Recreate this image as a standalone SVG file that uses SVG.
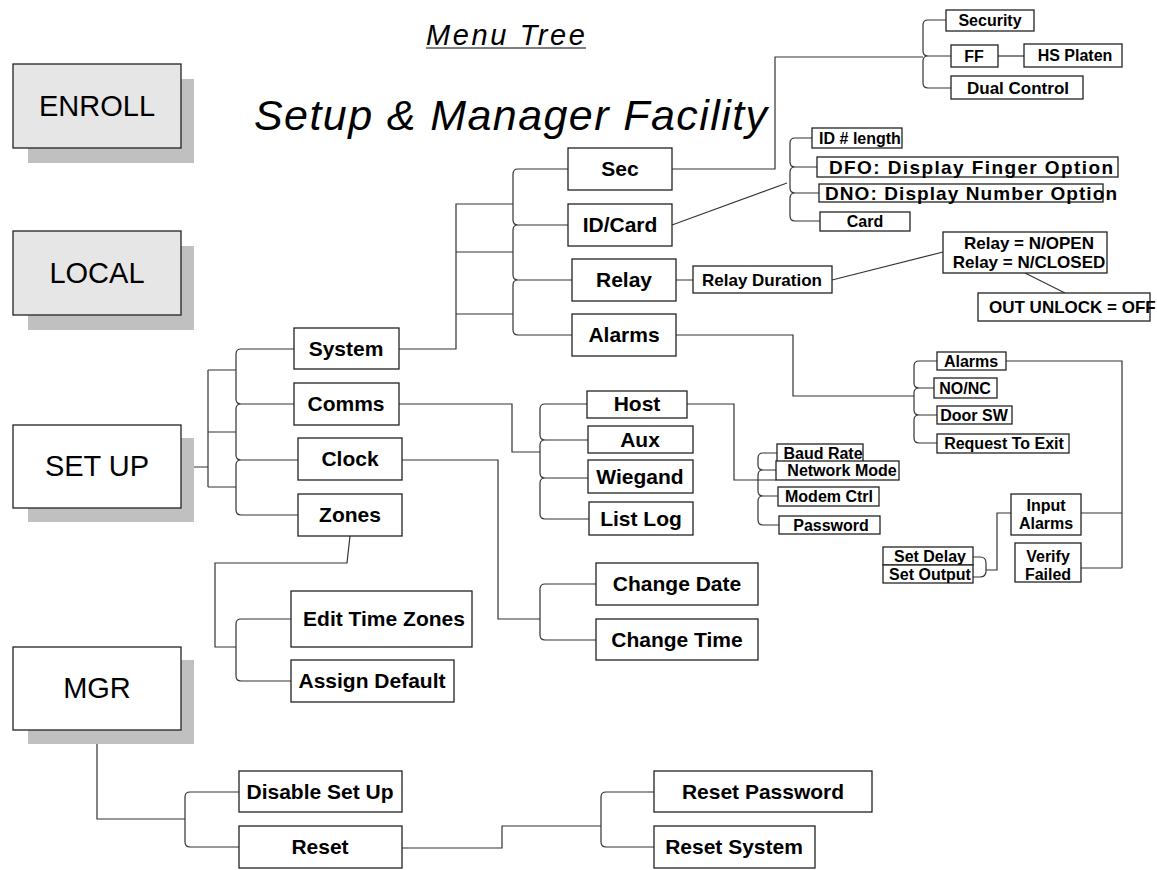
<svg xmlns="http://www.w3.org/2000/svg" width="1157" height="870" viewBox="0 0 1157 870">
<style>
.bx{fill:#fff;stroke:#222;stroke-width:1.3}
.big{fill:#e6e6e6;stroke:#222;stroke-width:1.3}
.bw{fill:#fff;stroke:#222;stroke-width:1.3}
.sh{fill:#c0c0c0}
.t{font-family:"Liberation Sans",Arial,sans-serif;font-weight:bold;text-anchor:middle;fill:#000}
.l{font-size:21px}
.s{font-size:16px}
.m{font-size:17px}
.h{font-family:"Liberation Sans",Arial,sans-serif;font-size:29px;text-anchor:middle;fill:#000}
.c path,.c line{fill:none;stroke:#333;stroke-width:1.2}
</style>
<rect width="1157" height="870" fill="#fff"/>
<g id="title">
<text x="426" y="45" font-family="Liberation Sans,Arial,sans-serif" font-style="italic" font-size="29" textLength="159" lengthAdjust="spacing">Menu Tree</text>
<line x1="426" y1="48" x2="586" y2="48" stroke="#000" stroke-width="1.2"/>
<text x="254" y="130" font-family="Liberation Sans,Arial,sans-serif" font-style="italic" font-size="43" textLength="513" lengthAdjust="spacing">Setup &amp; Manager Facility</text>
</g>
<g class="c" id="connectors">
<path d="M181,467 H208 M208,370 V487 M208,370 H236 M208,432 H236 M208,487 H236"/>
<path d="M294,349 H241 Q236,349 236,354 V399 Q236,404 241,404 H294 M294,404 H241 Q236,404 236,409 V455 Q236,460 241,460 H298 M298,460 H241 Q236,460 236,465 V510 Q236,515 241,515 H298"/>
<path d="M399,349 H456 V204 H513 M456,252 H513 M456,314 H513"/>
<path d="M568,169 H518 Q513,169 513,174 V220 Q513,225 518,225 H568 M568,225 H518 Q513,225 513,230 V275 Q513,280 518,280 H572 M572,280 H518 Q513,280 513,285 V330 Q513,335 518,335 H572"/>
<path d="M672,169 H775 V57 H923"/>
<path d="M946,20 H928 Q923,20 923,25 V51 Q923,56 928,56 H951 M951,56 H928 Q923,56 923,61 V83 Q923,88 928,88 H951"/>
<path d="M998,56 H1024"/>
<path d="M672,225 L787,183"/>
<path d="M812,138 H795 Q790,138 790,143 V162 Q790,167 795,167 H817 M817,167 H795 Q790,167 790,172 V188 Q790,193 795,193 H819 M819,193 H795 Q790,193 790,198 V216 Q790,221 795,221 H820"/>
<path d="M676,280 H693 M832,280 L943,252 M1025,273 L1065,293"/>
<path d="M676,335 H793 V396 H914"/>
<path d="M937,361 H919 Q914,361 914,366 V383 Q914,388 919,388 H934 M934,388 H919 Q914,388 914,393 V410 Q914,415 919,415 H937 M937,415 H919 Q914,415 914,420 V438 Q914,443 919,443 H937"/>
<path d="M1006,361 H1122 V568 M1081,513 H1122 M1081,568 H1122"/>
<path d="M1011,513 H997 V570 H986 M973,557 H980 Q986,557 986,563 V571 Q986,577 980,577 H973"/>
<path d="M399,404 H512 V452 H540"/>
<path d="M587,404 H545 Q540,404 540,409 V435 Q540,440 545,440 H588 M588,440 H545 Q540,440 540,445 V473 Q540,478 545,478 H588 M588,478 H545 Q540,478 540,483 V514 Q540,519 545,519 H589"/>
<path d="M687,404 H734 V480 H776"/>
<path d="M777,453 H763 Q758,453 758,458 V465 Q758,470 763,470 H776 M776,470 H763 Q758,470 758,475 V491 Q758,496 763,496 H778 M778,496 H763 Q758,496 758,501 V520 Q758,525 763,525 H779"/>
<path d="M402,460 H498 V619 H540"/>
<path d="M596,584 H545 Q540,584 540,589 V635 Q540,640 545,640 H596"/>
<path d="M350,536 L347,563 H215 V647 H236"/>
<path d="M291,619 H241 Q236,619 236,624 V676 Q236,681 241,681 H291"/>
<path d="M97,730 V819 H185"/>
<path d="M239,792 H190 Q185,792 185,797 V842 Q185,847 190,847 H239"/>
<path d="M402,848 H502 V826 H601"/>
<path d="M654,792 H606 Q601,792 601,797 V842 Q601,847 606,847 H654"/>
</g>
<g id="enroll"><rect class="sh" x="28" y="79" width="166" height="84"/><rect class="big" x="13" y="64" width="168" height="84"/><text class="h" x="97" y="116">ENROLL</text></g>
<g id="local"><rect class="sh" x="28" y="246" width="166" height="84"/><rect class="big" x="13" y="231" width="168" height="84"/><text class="h" x="97" y="283">LOCAL</text></g>
<g id="setup"><rect class="sh" x="28" y="438" width="166" height="84"/><rect class="bw" x="13" y="425" width="168" height="83"/><text class="h" x="97" y="476">SET UP</text></g>
<g id="mgr"><rect class="sh" x="28" y="660" width="166" height="84"/><rect class="bw" x="13" y="647" width="168" height="83"/><text class="h" x="97" y="698">MGR</text></g>
<g id="sec"><rect class="bx" x="568" y="148" width="104" height="42"/><text class="t l" x="620" y="176">Sec</text></g>
<g id="idcard"><rect class="bx" x="568" y="204" width="104" height="42"/><text class="t l" x="620" y="232">ID/Card</text></g>
<g id="relay"><rect class="bx" x="572" y="259" width="104" height="42"/><text class="t l" x="624" y="287">Relay</text></g>
<g id="alarms"><rect class="bx" x="572" y="314" width="104" height="42"/><text class="t l" x="624" y="342">Alarms</text></g>
<g id="system"><rect class="bx" x="294" y="328" width="105" height="41"/><text class="t l" x="346" y="356">System</text></g>
<g id="comms"><rect class="bx" x="294" y="383" width="105" height="42"/><text class="t l" x="346" y="411">Comms</text></g>
<g id="clock"><rect class="bx" x="298" y="438" width="104" height="42"/><text class="t l" x="350" y="466">Clock</text></g>
<g id="zones"><rect class="bx" x="298" y="494" width="104" height="42"/><text class="t l" x="350" y="522">Zones</text></g>
<g id="host"><rect class="bx" x="587" y="391" width="100" height="27"/><text class="t l" x="637" y="411">Host</text></g>
<g id="aux"><rect class="bx" x="588" y="426" width="105" height="27"/><text class="t l" x="640" y="447">Aux</text></g>
<g id="wiegand"><rect class="bx" x="588" y="460" width="105" height="33"/><text class="t l" x="640" y="484">Wiegand</text></g>
<g id="listlog"><rect class="bx" x="589" y="502" width="104" height="33"/><text class="t l" x="641" y="526">List Log</text></g>
<g id="changedate"><rect class="bx" x="596" y="563" width="162" height="42"/><text class="t l" x="677" y="591">Change Date</text></g>
<g id="changetime"><rect class="bx" x="596" y="619" width="162" height="41"/><text class="t l" x="677" y="647">Change Time</text></g>
<g id="edittz"><rect class="bx" x="291" y="591" width="181" height="56"/><text class="t l" x="384" y="626">Edit Time Zones</text></g>
<g id="assign"><rect class="bx" x="291" y="660" width="163" height="42"/><text class="t l" x="372" y="688">Assign Default</text></g>
<g id="disable"><rect class="bx" x="239" y="771" width="163" height="41"/><text class="t l" x="320" y="799">Disable Set Up</text></g>
<g id="reset"><rect class="bx" x="239" y="826" width="163" height="42"/><text class="t l" x="320" y="854">Reset</text></g>
<g id="resetpw"><rect class="bx" x="654" y="771" width="218" height="41"/><text class="t l" x="763" y="799">Reset Password</text></g>
<g id="resetsys"><rect class="bx" x="654" y="826" width="161" height="42"/><text class="t l" x="734" y="854">Reset System</text></g>
<g id="security"><rect class="bx" x="946" y="10" width="88" height="21"/><text class="t s" x="990" y="26">Security</text></g>
<g id="ff"><rect class="bx" x="951" y="45" width="47" height="22"/><text class="t s" x="974" y="62">FF</text></g>
<g id="hsplaten"><rect class="bx" x="1024" y="44" width="98" height="23"/><text class="t s" x="1075" y="61">HS Platen</text></g>
<g id="dual"><rect class="bx" x="951" y="76" width="132" height="23"/><text class="t m" x="1018" y="94">Dual Control</text></g>
<g id="idlen"><rect class="bx" x="812" y="128" width="90" height="20"/><text class="t s" x="860" y="144">ID # length</text></g>
<g id="dfo"><rect class="bx" x="817" y="157" width="301" height="20"/><text class="t" x="829" y="174" style="text-anchor:start;font-size:19px" textLength="284" lengthAdjust="spacing">DFO: Display Finger Option</text></g>
<g id="dno"><rect class="bx" x="819" y="184" width="284" height="18"/><text class="t" x="825" y="200" style="text-anchor:start;font-size:19px" textLength="292" lengthAdjust="spacing">DNO: Display Number Option</text></g>
<g id="card"><rect class="bx" x="820" y="212" width="90" height="19"/><text class="t s" x="865" y="227">Card</text></g>
<g id="relaydur"><rect class="bx" x="693" y="266" width="139" height="27"/><text class="t m" x="762" y="286">Relay Duration</text></g>
<g id="relaymode"><rect class="bx" x="943" y="232" width="164" height="41"/><text class="t m" x="1029" y="249">Relay = N/OPEN</text><text class="t m" x="1029" y="268">Relay = N/CLOSED</text></g>
<g id="outunlock"><rect class="bx" x="978" y="293" width="172" height="28"/><text class="t m" x="989" y="313" style="text-anchor:start">OUT UNLOCK = OFF</text></g>
<g id="alarms2"><rect class="bx" x="937" y="352" width="69" height="18"/><text class="t s" x="971" y="367">Alarms</text></g>
<g id="nonc"><rect class="bx" x="934" y="378" width="63" height="20"/><text class="t s" x="965" y="394">NO/NC</text></g>
<g id="doorsw"><rect class="bx" x="937" y="406" width="75" height="18"/><text class="t s" x="974" y="421">Door SW</text></g>
<g id="rte"><rect class="bx" x="937" y="434" width="132" height="19"/><text class="t s" x="1004" y="449">Request To Exit</text></g>
<g id="baud"><rect class="bx" x="777" y="444" width="86" height="18"/><text class="t s" x="823" y="459">Baud Rate</text></g>
<g id="netmode"><rect class="bx" x="776" y="461" width="123" height="19"/><text class="t s" x="842" y="476">Network Mode</text></g>
<g id="modem"><rect class="bx" x="778" y="487" width="101" height="19"/><text class="t s" x="829" y="502">Modem Ctrl</text></g>
<g id="password"><rect class="bx" x="779" y="516" width="101" height="18"/><text class="t s" x="831" y="531">Password</text></g>
<g id="inputalarms"><rect class="bx" x="1011" y="494" width="70" height="41"/><text class="t s" x="1046" y="511">Input</text><text class="t s" x="1046" y="529">Alarms</text></g>
<g id="verify"><rect class="bx" x="1015" y="543" width="66" height="39"/><text class="t s" x="1048" y="562">Verify</text><text class="t s" x="1048" y="580">Failed</text></g>
<g id="setdelay"><rect class="bx" x="883" y="547" width="90" height="18"/><text class="t s" x="930" y="562">Set Delay</text></g>
<g id="setoutput"><rect class="bx" x="883" y="565" width="90" height="18"/><text class="t s" x="930" y="580">Set Output</text></g>
</svg>
